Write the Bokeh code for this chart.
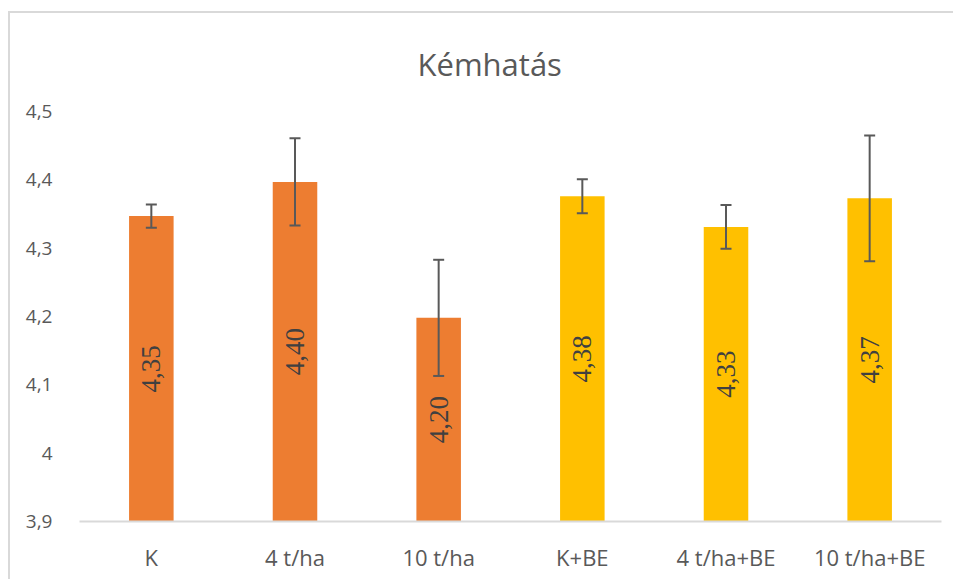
from bokeh.plotting import figure
from bokeh.models import ColumnDataSource, Whisker, TeeHead, LabelSet, CustomJSTickFormatter, Range1d, FactorRange, Title
from bokeh.embed import file_html
from bokeh.resources import INLINE
import math

categories = ["K", "4 t/ha", "10 t/ha", "K+BE", "4 t/ha+BE", "10 t/ha+BE"]
values = [4.347, 4.397, 4.198, 4.376, 4.331, 4.373]
errors = [0.017, 0.064, 0.085, 0.025, 0.032, 0.092]
groups = ["plain", "plain", "plain", "BE", "BE", "BE"]
y_ticks = [3.9, 4.0, 4.1, 4.2, 4.3, 4.4, 4.5]
title_text = "Kémhatás"

palette = {"plain": "#ED7D31", "BE": "#FFC000"}
base = 3.9
FONT = "Open Sans"

src = ColumnDataSource(dict(
    cat=categories,
    val=values,
    upper=[v + e for v, e in zip(values, errors)],
    lower=[v - e for v, e in zip(values, errors)],
    mid=[(v + base) / 2 for v in values],
    lab=[f"{v:.2f}".replace(".", ",") for v in values],
    color=[palette[g] for g in groups],
))

# canvas starts at (10, 13): 8/11 px margin + 2 px border
p = figure(width=945, height=568, x_range=FactorRange(*categories), y_range=Range1d(base, 4.5),
           output_backend="svg", toolbar_location=None,
           min_border_left=69, min_border_right=14, min_border_top=97, min_border_bottom=60)

p.title = Title(text=title_text, align="left", text_font=FONT,
                text_font_size="31px", text_font_style="normal", text_color="#595959",
                offset=338, standoff=54)

p.vbar(x="cat", top="val", bottom=base, width=0.31, source=src, fill_color="color", line_color=None)

w = Whisker(source=src, base="cat", upper="upper", lower="lower", line_color="#595959", line_width=2,
            upper_head=TeeHead(size=11, line_color="#595959", line_width=2),
            lower_head=TeeHead(size=11, line_color="#595959", line_width=2), level="overlay")
p.add_layout(w)

labels = LabelSet(x="cat", y="mid", text="lab", source=src, angle=math.pi / 2,
                  text_align="center", text_baseline="middle", text_font=FONT,
                  text_font_size="27px", text_color="#404040")
p.add_layout(labels)

p.xgrid.grid_line_color = None
p.ygrid.grid_line_color = None
p.outline_line_color = None

p.xaxis.axis_line_color = "#D9D9D9"
p.xaxis.axis_line_width = 2
p.xaxis.major_tick_line_color = None
p.xaxis.minor_tick_line_color = None
p.xaxis.major_label_text_font = FONT
p.xaxis.major_label_text_font_size = "22px"
p.xaxis.major_label_text_color = "#595959"
p.xaxis.major_label_standoff = 14

p.yaxis.ticker = y_ticks
p.yaxis.axis_line_color = None
p.yaxis.major_tick_line_color = None
p.yaxis.minor_tick_line_color = None
p.yaxis.major_label_text_font = FONT
p.yaxis.major_label_text_font_size = "19px"
p.yaxis.major_label_text_color = "#595959"
p.yaxis.major_label_standoff = 21
p.yaxis.formatter = CustomJSTickFormatter(code="""
    var s = (Math.round(tick * 10) / 10).toString();
    return s.replace('.', ',');
""")

p.styles = {"margin-left": "8px", "margin-top": "11px",
            "border-top": "2px solid #D9D9D9", "border-left": "2px solid #D9D9D9"}

open("out.html", "w").write(file_html(p, INLINE))
